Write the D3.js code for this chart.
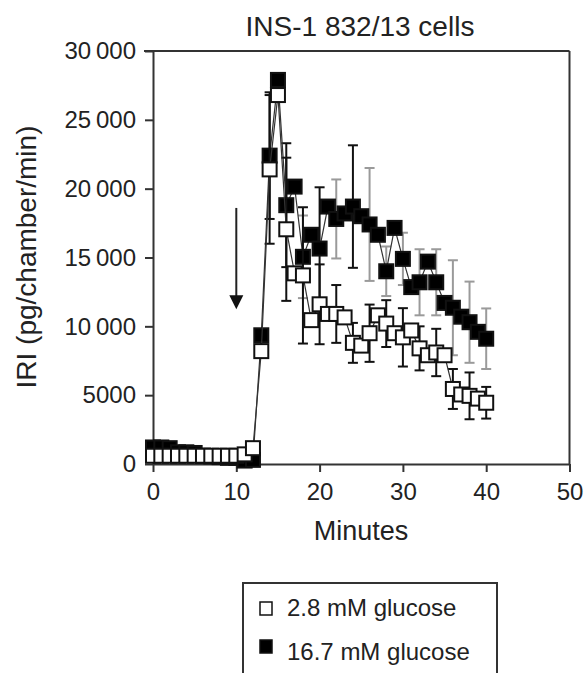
<!DOCTYPE html>
<html>
<head>
<meta charset="utf-8">
<script src="https://cdn.jsdelivr.net/npm/d3@7/dist/d3.min.js"></script>
<style>
  html, body { margin: 0; padding: 0; background: #fff; }
  svg { display: block; font-family: "Liberation Sans", Arial, sans-serif; }
</style>
</head>
<body>
<svg id="chart" width="586" height="673"></svg>
<script>
// Perifusion time course of insulin release (IRI) from INS-1 832/13 cells
const minutes = [0, 1, 2, 3, 4, 5, 6, 7, 8, 9, 10, 11, 12, 13, 14, 15, 16, 17, 18, 19, 20,
                 21, 22, 23, 24, 25, 26, 27, 28, 29, 30, 31, 32, 33, 34, 35, 36, 37, 38, 39, 40];

// 2.8 mM glucose (open squares)
const lowGlucose = [600, 600, 600, 600, 600, 600, 600, 600, 600, 600, 600, 700, 1150, 8200, 21400, 26800,
                    17050, 13850, 13700, 10450, 11600, 10900, 10900, 10650, 8800, 8600, 9500, 10800, 10200,
                    9500, 9200, 9700, 8400, 7900, 8100, 7900, 5450, 5050, 4950, 4750, 4450];
const lowGlucoseSem = [null, null, null, null, null, null, null, null, null, null, null, null, null, null,
                       5400, null, 5200, null, 4950, null, 2900, null, 2100, null, 1450, null, 2080, null,
                       1700, null, 2120, null, 1600, null, 1720, null, 1450, null, 1700, null, 1150];

// 16.7 mM glucose (filled squares)
const highGlucose = [1200, 1200, 1150, 850, 850, 800, 600, 550, 500, 450, 450, 250, 300, 9350, 22400, 27900,
                     18800, 20150, 15050, 16650, 15650, 18700, 17800, 18200, 18700, 18000, 17400, 16650, 14000,
                     17150, 14900, 12850, 13200, 14700, 13200, 11700, 11350, 10700, 10300, 9600, 9100];
const highGlucoseSem = [null, null, null, null, null, null, null, null, null, null, null, null, null, null,
                        4600, null, 4500, null, 3000, null, 4450, null, 2870, null, 4450, null, 4100, null,
                        1800, null, 1900, null, 2400, null, 2400, null, 3450, null, 2950, null, 2200];
// minutes whose 16.7 mM error bars are printed in full black
const highGlucoseSemDarkMinutes = [14, 16, 20, 24];

const xTicks = [0, 10, 20, 30, 40, 50];
const yTicks = [0, 5000, 10000, 15000, 20000, 25000, 30000];
const stimulusMinute = 10;          // arrow: switch of glucose concentration
const arrowSpan = [18600, 11250];   // arrow drawn between these IRI levels

const titleText = "INS-1 832/13 cells";
const xTitle = "Minutes";
const yTitle = "IRI (pg/chamber/min)";
const seriesNames = ["2.8 mM glucose", "16.7 mM glucose"];

const svg = d3.select("#chart");
const ink = "#222";

const x = d3.scaleLinear().domain([0, 50]).range([153, 569.5]);
const y = d3.scaleLinear().domain([0, 30000]).range([464, 51]);

const fmt = v => v >= 10000 ? d3.format(",")(v).replace(",", "\u2009") : String(v);

// frame (top and right)
svg.append("line").attr("x1", 144).attr("x2", x(50)).attr("y1", y(30000)).attr("y2", y(30000))
  .attr("stroke", "#333").attr("stroke-width", 2);
svg.append("line").attr("x1", x(50)).attr("x2", x(50)).attr("y1", y(30000)).attr("y2", y(0))
  .attr("stroke", "#333").attr("stroke-width", 2);

// axes
const yAxis = svg.append("g").attr("transform", `translate(${x(0)},0)`)
  .call(d3.axisLeft(y).tickValues(yTicks).tickFormat(fmt).tickSize(8).tickSizeOuter(0).tickPadding(9));
const xAxis = svg.append("g").attr("transform", `translate(0,${y(0)})`)
  .call(d3.axisBottom(x).tickValues(xTicks).tickSize(8).tickSizeOuter(0).tickPadding(11));
[yAxis, xAxis].forEach(g => {
  g.select(".domain").attr("stroke", "#333").attr("stroke-width", 2);
  g.selectAll(".tick line").attr("stroke", "#333").attr("stroke-width", 2);
  g.selectAll(".tick text").attr("fill", ink).attr("font-size", 24)
    .attr("font-family", "Liberation Sans, Arial, sans-serif");
});

// titles
svg.append("text").attr("x", 360).attr("y", 36).attr("text-anchor", "middle")
  .attr("font-size", 28).attr("fill", ink).text(titleText);
svg.append("text").attr("x", 361).attr("y", 540).attr("text-anchor", "middle")
  .attr("font-size", 27).attr("fill", ink).text(xTitle);
svg.append("text").attr("transform", "translate(36,257) rotate(-90)").attr("text-anchor", "middle")
  .attr("font-size", 28).attr("fill", ink).text(yTitle);

// stimulus arrow
const ax = x(stimulusMinute);
svg.append("line").attr("x1", ax).attr("x2", ax).attr("y1", y(arrowSpan[0])).attr("y2", y(arrowSpan[1]) - 12)
  .attr("stroke", "#222").attr("stroke-width", 2);
svg.append("path")
  .attr("d", `M${ax - 7},${y(arrowSpan[1]) - 14} L${ax + 7},${y(arrowSpan[1]) - 14} L${ax},${y(arrowSpan[1])} Z`)
  .attr("fill", "#111");

const rows = (vals, sem) => minutes.map((m, i) => ({ m, v: vals[i], e: sem[i] }));
const lowRows = rows(lowGlucose, lowGlucoseSem);
const highRows = rows(highGlucose, highGlucoseSem);

function errorBars(data, color) {
  const g = svg.append("g").attr("stroke", color).attr("stroke-width", 2);
  data.filter(d => d.e != null).forEach(d => {
    const cx = x(d.m), top = y(d.v + d.e), bot = y(d.v - d.e);
    g.append("line").attr("x1", cx).attr("x2", cx).attr("y1", top).attr("y2", bot);
    g.append("line").attr("x1", cx - 5).attr("x2", cx + 5).attr("y1", top).attr("y2", top);
    g.append("line").attr("x1", cx - 5).attr("x2", cx + 5).attr("y1", bot).attr("y2", bot);
  });
}

function series(data, fill) {
  const line = d3.line().x(d => x(d.m)).y(d => y(d.v));
  svg.append("path").datum(data).attr("d", line).attr("fill", "none")
    .attr("stroke", "#333").attr("stroke-width", 1.2);
  const s = 14;
  svg.append("g").selectAll("rect").data(data).join("rect")
    .attr("x", d => x(d.m) - s / 2).attr("y", d => y(d.v) - s / 2)
    .attr("width", s).attr("height", s)
    .attr("fill", fill).attr("stroke", "#111").attr("stroke-width", 2);
}

// 16.7 mM first, 2.8 mM drawn on top
errorBars(highRows.filter(d => !highGlucoseSemDarkMinutes.includes(d.m)), "#9a9a9a");
errorBars(highRows.filter(d => highGlucoseSemDarkMinutes.includes(d.m)), "#111");
series(highRows, "#000");
errorBars(lowRows, "#111");
series(lowRows, "#fff");

// legend
const lg = svg.append("g");
lg.append("rect").attr("x", 243).attr("y", 583).attr("width", 254).attr("height", 120)
  .attr("fill", "#fff").attr("stroke", "#333").attr("stroke-width", 2);
const legendRows = [{ name: seriesNames[0], fill: "#fff", sy: 602, ty: 616 },
                    { name: seriesNames[1], fill: "#000", sy: 640, ty: 660 }];
legendRows.forEach(r => {
  lg.append("rect").attr("x", 260).attr("y", r.sy).attr("width", 12).attr("height", 13)
    .attr("fill", r.fill).attr("stroke", "#111").attr("stroke-width", 1.5);
  lg.append("text").attr("x", 287).attr("y", r.ty).attr("font-size", 24).attr("fill", ink).text(r.name);
});
</script>
</body>
</html>
